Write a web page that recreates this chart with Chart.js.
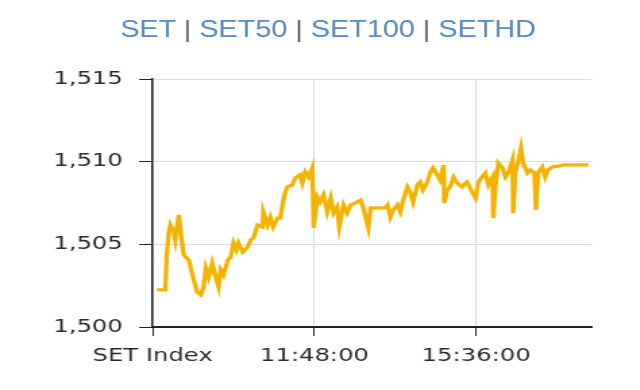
<!DOCTYPE html>
<html>
<head>
<meta charset="utf-8">
<script src="https://cdn.jsdelivr.net/npm/chart.js@4/dist/chart.umd.min.js"></script>
<style>
    body { margin: 0; background: #fff; }
    #page { position: relative; width: 640px; height: 390px; overflow: hidden; }
    #title {
        position: absolute; top: 17px; left: 328px;
        font-family: "Liberation Sans", Arial, sans-serif; font-size: 24px; line-height: 24px;
        color: #5b8cc2; white-space: nowrap;
        transform: translateX(-50%) scaleX(1.2);
    }
    #title .sep { color: #7a6a66; }
    /* исходная картинка растянута по горизонтали, поэтому рисуем уже и растягиваем */
    #wrap {
        position: absolute; top: 0; left: 0; width: 474px; height: 390px;
        transform: scaleX(1.35); transform-origin: left top;
    }
</style>
</head>
<body>
<div id="page">
    <div id="title">SET <span class="sep">|</span> SET50 <span class="sep">|</span> SET100 <span class="sep">|</span> SETHD</div>
    <div id="wrap"><canvas id="set-chart"></canvas></div>
</div>
<script>
// Время сделки и значение индекса SET
const times = [
    '08:06', '08:18', '08:20', '08:23', '08:25', '08:30', '08:32', '08:37', '08:41', '08:44',
    '08:51', '08:58', '09:03', '09:08', '09:12', '09:15', '09:19', '09:24', '09:29', '09:33',
    '09:36', '09:40', '09:46', '09:50', '09:54', '09:58', '10:01', '10:07', '10:14', '10:18',
    '10:22', '10:28', '10:35', '10:36', '10:42', '10:46', '10:50', '10:56', '11:00', '11:03',
    '11:07', '11:10', '11:17', '11:21', '11:28', '11:31', '11:35', '11:40', '11:45', '11:47',
    '11:52', '11:56', '12:01', '12:06', '12:11', '12:15', '12:20', '12:23', '12:29', '12:34',
    '12:39', '12:46', '12:53', '12:57', '13:04', '13:07', '13:28', '13:31', '13:35', '13:39',
    '13:45', '13:49', '13:53', '13:59', '14:03', '14:07', '14:13', '14:17', '14:21', '14:27',
    '14:31', '14:35', '14:41', '14:45', '14:50', '14:51', '14:55', '14:59', '15:04', '15:09',
    '15:16', '15:21', '15:23', '15:30', '15:35', '15:39', '15:44', '15:49', '15:53', '15:59',
    '16:00', '16:03', '16:07', '16:13', '16:17', '16:21', '16:27', '16:28', '16:31', '16:35',
    '16:39', '16:42', '16:48', '16:52', '16:58', '17:00', '17:03', '17:09', '17:13', '17:17',
    '17:23', '17:34', '17:38', '18:14'
];
const setValues = [
    1502.24, 1502.24, 1504.36, 1505.75, 1506.17, 1505.75, 1505.26, 1506.78, 1505.26, 1504.36,
    1504.05, 1502.84, 1502.12, 1501.94, 1502.42, 1503.57, 1503.02, 1503.87, 1503.02, 1502.42,
    1503.45, 1503.15, 1504.05, 1504.23, 1505.08, 1504.66, 1505.08, 1504.54, 1504.84, 1505.26,
    1505.38, 1506.17, 1506.05, 1506.96, 1506.17, 1506.65, 1506.05, 1506.59, 1506.59, 1507.38,
    1508.17, 1508.47, 1508.59, 1509.01, 1509.20, 1508.71, 1509.38, 1509.07, 1509.62, 1505.99,
    1507.86, 1507.56, 1507.99, 1506.96, 1507.80, 1506.90, 1507.26, 1506.05, 1507.38, 1506.90,
    1507.38, 1507.50, 1507.68, 1507.20, 1505.99, 1507.20, 1507.20, 1507.38, 1506.65, 1507.08,
    1507.38, 1506.96, 1507.68, 1508.47, 1508.17, 1507.56, 1508.59, 1508.77, 1508.29, 1508.77,
    1509.32, 1509.62, 1509.20, 1508.89, 1509.80, 1507.50, 1508.29, 1508.47, 1509.07, 1508.71,
    1508.47, 1508.71, 1508.77, 1508.17, 1507.80, 1508.77, 1509.07, 1509.32, 1508.59, 1509.07,
    1506.59, 1508.47, 1509.92, 1509.62, 1509.07, 1509.32, 1510.10, 1506.90, 1509.38, 1509.98,
    1510.83, 1509.92, 1509.32, 1509.50, 1509.32, 1507.08, 1509.32, 1509.68, 1509.07, 1509.50,
    1509.68, 1509.74, 1509.80, 1509.80
];

// Подписи оси X
const xTickTimes = ['08:00', '11:48', '15:36'];
const xTickLabels = ['SET Index', '11:48:00', '15:36:00'];
const xRange = ['08:00', '18:19'];

// Ось Y
const yTicks = [1500, 1505, 1510, 1515];

const toMinutes = (t) => {
    const [h, m] = t.split(':').map(Number);
    return h * 60 + m;
};

const tickFont = { family: "'DejaVu Sans', Verdana, sans-serif", size: 18 };
const tickTimesMin = xTickTimes.map(toMinutes);

const ctx = document.getElementById('set-chart').getContext('2d');

new Chart(ctx, {
    type: 'line',
    data: {
        datasets: [{
            label: 'SET',
            data: times.map((t, i) => ({ x: toMinutes(t), y: setValues[i] })),
            borderColor: '#f5b301',
            borderWidth: 3.3,
            pointRadius: 0,
            tension: 0,
            fill: false
        }]
    },
    options: {
        responsive: true,
        maintainAspectRatio: false,
        animation: false,
        layout: { padding: { top: 79, left: 0, right: 35.5, bottom: 0 } },
        plugins: {
            legend: { display: false },
            tooltip: { enabled: false }
        },
        scales: {
            x: {
                type: 'linear',
                min: toMinutes(xRange[0]),
                max: toMinutes(xRange[1]),
                afterBuildTicks: (scale) => {
                    scale.ticks = tickTimesMin.map(v => ({ value: v }));
                },
                afterFit: (scale) => { scale.height = 63; },
                grid: { color: '#dddddd', lineWidth: 1, tickLength: 9, tickColor: '#222' },
                border: { color: '#222', width: 2 },
                ticks: {
                    font: tickFont,
                    color: '#2b2b2b',
                    padding: 10,
                    maxRotation: 0,
                    autoSkip: false,
                    callback: (value) => {
                        const idx = tickTimesMin.indexOf(value);
                        return idx >= 0 ? xTickLabels[idx] : '';
                    }
                }
            },
            y: {
                min: yTicks[0],
                max: yTicks[yTicks.length - 1],
                afterBuildTicks: (scale) => {
                    scale.ticks = yTicks.map(v => ({ value: v }));
                },
                afterFit: (scale) => { scale.width = 113; },
                grid: { color: '#dddddd', lineWidth: 1, tickLength: 10, tickColor: '#222' },
                border: { color: '#222', width: 1.5 },
                ticks: {
                    font: tickFont,
                    color: '#2b2b2b',
                    padding: 12,
                    callback: (value) => value.toLocaleString('en-US')
                }
            }
        }
    }
});
</script>
</body>
</html>
